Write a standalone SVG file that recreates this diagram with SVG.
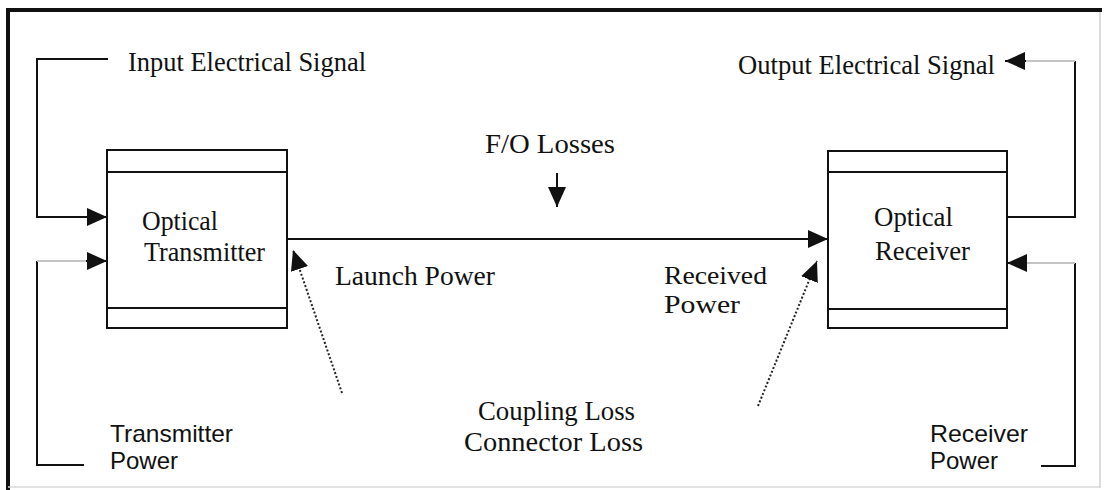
<svg xmlns="http://www.w3.org/2000/svg" width="1104" height="490" viewBox="0 0 1104 490">
<style>
.serif{font-family:"Liberation Serif","Times New Roman",serif;font-size:28px;fill:#111}
.s26{font-size:26px}
.sans{font-family:"Liberation Sans",Arial,sans-serif;font-size:24px;fill:#111}
.box{fill:#fff;stroke:#111;stroke-width:2}
.ln{fill:none;stroke:#111;stroke-width:2}
.gray{fill:none;stroke:#c4c4c4;stroke-width:2}
.dot{fill:none;stroke:#222;stroke-width:2;stroke-dasharray:2 2}
</style>
<defs>
<marker id="arr" viewBox="0 0 20 18" refX="20" refY="9" markerWidth="20" markerHeight="18" markerUnits="userSpaceOnUse" orient="auto">
<path d="M0,0 L20,9 L0,18 z" fill="#111"/>
</marker>
</defs>
<rect width="1104" height="490" fill="#fff"/>
<g id="frame">
<line x1="6" y1="10" x2="1102" y2="10" stroke="#111" stroke-width="4"/>
<line x1="8" y1="8" x2="8" y2="490" stroke="#111" stroke-width="4"/>
<line x1="1100" y1="12" x2="1100" y2="488" stroke="#d0d0d0" stroke-width="1.5"/>
<line x1="8" y1="487" x2="1100" y2="487" stroke="#d8d8d8" stroke-width="1.5"/>
</g>
<g id="transmitter">
<rect class="box" x="107" y="150" width="180" height="178"/>
<line class="ln" x1="107" y1="172" x2="287" y2="172"/>
<line class="ln" x1="107" y1="308" x2="287" y2="308"/>
<text class="serif" x="142" y="230" textLength="76" lengthAdjust="spacingAndGlyphs">Optical</text>
<text class="serif" x="144" y="261" textLength="121" lengthAdjust="spacingAndGlyphs">Transmitter</text>
</g>
<g id="receiver">
<rect class="box" x="828" y="151" width="179" height="177"/>
<line class="ln" x1="828" y1="172" x2="1007" y2="172"/>
<line class="ln" x1="828" y1="309" x2="1007" y2="309"/>
<text class="serif" x="874" y="226" textLength="79" lengthAdjust="spacingAndGlyphs">Optical</text>
<text class="serif" x="875" y="260" textLength="95" lengthAdjust="spacingAndGlyphs">Receiver</text>
</g>
<g id="labels">
<text class="serif" x="128" y="71" textLength="238" lengthAdjust="spacingAndGlyphs">Input Electrical Signal</text>
<text class="serif" x="738" y="74" textLength="257" lengthAdjust="spacingAndGlyphs">Output Electrical Signal</text>
<text class="serif" x="485" y="153" textLength="130" lengthAdjust="spacingAndGlyphs">F/O Losses</text>
<text class="serif" x="335" y="285" textLength="160" lengthAdjust="spacingAndGlyphs">Launch Power</text>
<text class="serif s26" x="664" y="284" textLength="103" lengthAdjust="spacingAndGlyphs">Received</text>
<text class="serif s26" x="664" y="313" textLength="76" lengthAdjust="spacingAndGlyphs">Power</text>
<text class="serif" x="478" y="420" textLength="157" lengthAdjust="spacingAndGlyphs">Coupling Loss</text>
<text class="serif" x="464" y="451" textLength="179" lengthAdjust="spacingAndGlyphs">Connector Loss</text>
<text class="sans" x="110" y="442" textLength="123" lengthAdjust="spacingAndGlyphs">Transmitter</text>
<text class="sans" x="110" y="469">Power</text>
<text class="sans" x="930" y="442" textLength="98" lengthAdjust="spacingAndGlyphs">Receiver</text>
<text class="sans" x="930" y="469">Power</text>
</g>
<g id="connectors">
<polyline class="ln" points="108,59 37,59 37,217 107,217" marker-end="url(#arr)"/>
<polyline class="ln" points="84,465 37,465 37,261"/>
<line class="gray" x1="37" y1="261" x2="88" y2="261"/>
<line class="ln" x1="86" y1="261" x2="107" y2="261" marker-end="url(#arr)"/>
<line class="ln" x1="287" y1="239" x2="828" y2="239" marker-end="url(#arr)"/>
<line class="ln" x1="557" y1="173" x2="557" y2="207" marker-end="url(#arr)"/>
<polyline class="ln" points="1007,217 1075,217 1075,61"/>
<line class="gray" x1="1075" y1="61" x2="1024" y2="61"/>
<line class="ln" x1="1026" y1="61" x2="1005" y2="61" marker-end="url(#arr)"/>
<polyline class="ln" points="1041,466 1075,466 1075,263"/>
<line class="gray" x1="1075" y1="263" x2="1025" y2="263"/>
<line class="ln" x1="1027" y1="263" x2="1007" y2="263" marker-end="url(#arr)"/>
<line class="dot" x1="342" y1="393" x2="293" y2="250" marker-end="url(#arr)"/>
<line class="dot" x1="758" y1="406" x2="817" y2="261" marker-end="url(#arr)"/>
</g>
</svg>
